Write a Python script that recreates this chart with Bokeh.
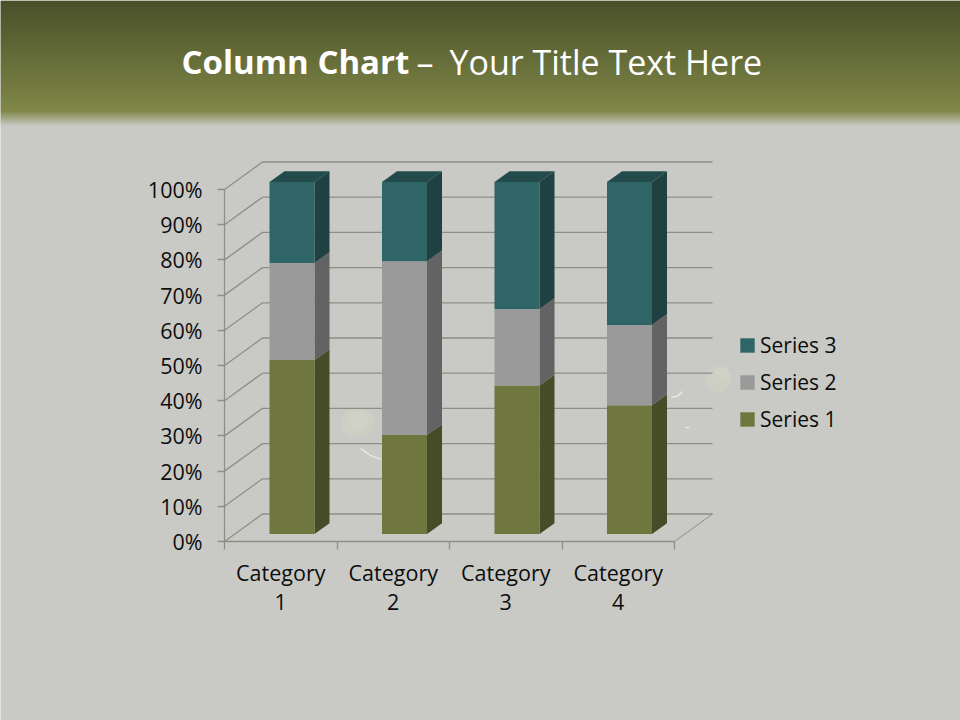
from bokeh.plotting import figure
from bokeh.models import LinearAxis, FixedTicker, Legend, LegendItem, Range1d
from bokeh.core.properties import value
from bokeh.embed import file_html
from bokeh.resources import INLINE

categories = ["Category\n1", "Category\n2", "Category\n3", "Category\n4"]
series_names = ["Series 1", "Series 2", "Series 3"]
series1 = [49.4, 28.1, 42.2, 36.6]
series2 = [27.6, 49.4, 21.7, 22.8]
series3 = [23.0, 22.5, 36.1, 40.6]
y_ticks = list(range(0, 101, 10))

W, H = 960, 720
PX_X = 112.5   # pixels per category
PX_Y = 3.52    # pixels per percent
X0, Y0 = 224.0, 541.0  # pixel position of the front-left floor corner


def dx(px):
    return px / PX_X


def dy(px):
    return px / PX_Y


def gx(px):
    return (px - X0) / PX_X


def gy(px):
    return (Y0 - px) / PX_Y


p = figure(width=W, height=H, output_backend="svg", toolbar_location=None,
           x_range=Range1d(gx(0), gx(W)), y_range=Range1d(gy(H), gy(0)),
           x_axis_type=None, y_axis_type=None, min_border=0, outline_line_color=None,
           background_fill_color="#C9CAC5", border_fill_color="#C9CAC5")
p.grid.visible = False
p.styles = {"position": "absolute", "left": "0", "top": "0"}


# header band
def mix(a, b, t):
    return "#%02X%02X%02X" % tuple(round(a[i] + (b[i] - a[i]) * t) for i in range(3))


TOP, MID, BODY = (74, 80, 41), (127, 135, 72), (201, 202, 197)
rows = list(range(0, 126))
row_col = [mix(TOP, MID, r / 110) if r <= 110 else mix(MID, BODY, (r - 110) / 15) for r in rows]
p.quad(left=gx(0), right=gx(W), top=[gy(r) for r in rows], bottom=[gy(r + 1.6) for r in rows],
       fill_color=row_col, line_color=None)

# faint decorations of the slide background
p.ellipse(x=[gx(357), gx(357), gx(718), gx(722)], y=[gy(422), gy(420), gy(379), gy(373)],
          width=[dx(34), dx(20), dx(26), dx(14)], height=[dy(30), dy(18), dy(26), dy(14)],
          fill_color="#D8DBC8", fill_alpha=0.3, line_color=None)
streaks = [[(360, 448), (370, 455), (381, 459)], [(671, 397), (678, 395), (682, 391)], [(685, 427), (689, 427)]]
p.multi_line(xs=[[gx(a) for a, _ in s] for s in streaks], ys=[[gy(c) for _, c in s] for s in streaks],
             line_color="#ECEEE4", line_width=1.3)

# walls and floor
DX_W, DY_W = dx(38), 27.5 / PX_Y
GRID = "#8E8E86"
p.multi_line(xs=[[0, DX_W, 4 + DX_W] for _ in y_ticks],
             ys=[[v, v + DY_W, v + DY_W] for v in y_ticks],
             line_color=GRID, line_width=1.3)
p.line(x=[4, 4 + DX_W], y=[0, DY_W], line_color=GRID, line_width=1.0)

# 3D columns
colors = {"front": ["#6F773E", "#9A9A9A", "#2F6566"],
          "side": ["#474C28", "#636363", "#1F4142"],
          "top": ["#474C28", "#636363", "#234B4C"]}
BAR_L, BAR_W = gx(269), dx(45)
FRONT_Y = dy(7.5)
DEP_X, DEP_Y = dx(15), dy(10.8)
fronts = []
bottoms = [0, 0, 0, 0]
for k, vals in enumerate([series1, series2, series3]):
    tops = [b + v for b, v in zip(bottoms, vals)]
    lefts = [BAR_L + i for i in range(4)]
    rights = [l + BAR_W for l in lefts]
    p.patches(xs=[[r, r + DEP_X, r + DEP_X, r] for r in rights],
              ys=[[b + FRONT_Y, b + FRONT_Y + DEP_Y, t + FRONT_Y + DEP_Y, t + FRONT_Y]
                  for b, t in zip(bottoms, tops)],
              fill_color=colors["side"][k], line_color=None)
    if k == 2:
        p.patches(xs=[[l, l + DEP_X, r + DEP_X, r] for l, r in zip(lefts, rights)],
                  ys=[[t + FRONT_Y, t + FRONT_Y + DEP_Y, t + FRONT_Y + DEP_Y, t + FRONT_Y] for t in tops],
                  fill_color=colors["top"][k], line_color=None)
    fronts.append(p.quad(left=lefts, right=rights,
                         bottom=[b + FRONT_Y for b in bottoms], top=[t + FRONT_Y for t in tops],
                         fill_color=colors["front"][k], line_color=None))
    bottoms = tops

# axes
FONT = "Open Sans"
yaxis = LinearAxis(fixed_location=0, ticker=FixedTicker(ticks=y_ticks), bounds=(0, 100),
                   major_label_overrides={v: f"{v}%" for v in y_ticks},
                   major_tick_out=7, major_tick_in=0, minor_tick_out=0, minor_tick_in=0,
                   major_label_standoff=15, axis_line_color=GRID, major_tick_line_color=GRID,
                   axis_line_width=1.3, major_tick_line_width=1.3,
                   major_label_text_font=FONT, major_label_text_font_size="21.5px",
                   major_label_text_color="#0D0D0D")
p.add_layout(yaxis, "left")
xaxis = LinearAxis(fixed_location=0, bounds=(0, 4),
                   ticker=FixedTicker(ticks=[i + 0.5 for i in range(4)], minor_ticks=list(range(5))),
                   major_label_overrides={i + 0.5: c for i, c in enumerate(categories)},
                   major_tick_out=0, major_tick_in=0, minor_tick_out=8, minor_tick_in=0,
                   major_label_standoff=8, axis_line_color=GRID, minor_tick_line_color=GRID,
                   axis_line_width=1.3, minor_tick_line_width=1.3,
                   major_label_text_font=FONT, major_label_text_font_size="21.5px",
                   major_label_text_color="#0D0D0D", major_label_text_line_height=1.0)
p.add_layout(xaxis, "below")

# legend
legend = Legend(items=[LegendItem(label=series_names[k], renderers=[fronts[k]]) for k in (2, 1, 0)],
                location=(738, H - 433), orientation="vertical", border_line_color=None,
                background_fill_alpha=0, padding=0, margin=0, spacing=9, label_standoff=4,
                glyph_width=18, glyph_height=18, label_text_font=FONT, label_text_font_size="21px",
                label_text_color="#0D0D0D")
p.add_layout(legend, "center")

# title
BASE = gy(61)
p.text(x=[gx(181)], y=[BASE], text=["Column Chart"], text_font=value(FONT), text_font_size="33px",
       text_font_style="bold", text_color="#FFFFFF", text_baseline="alphabetic")
p.text(x=[gx(416), gx(449)], y=[BASE, BASE], text=["–", "Your Title Text Here"], text_font=value(FONT),
       text_font_size="34px", text_color="#FFFFFF", text_baseline="alphabetic")

open("out.html", "w").write(file_html(p, INLINE))
